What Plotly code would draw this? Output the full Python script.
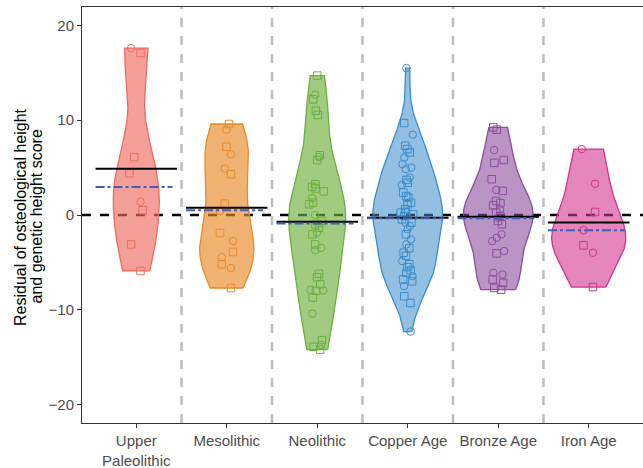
import numpy as np
import plotly.graph_objects as go

categories = ["Upper<br>Paleolithic", "Mesolithic", "Neolithic", "Copper Age", "Bronze Age", "Iron Age"]
y_title_lines = ["Residual of osteological height", "and genetic height score"]

# residual values, split by marker shape (circle / square)
up_circle = [17.6, 1.4]
up_square = [17.1, 6.1, 4.4, 0.5, -3.1, -5.9]

meso_circle = [9.0, 6.4, 4.9, 0.4, -2.75, -4.45, -5.6]
meso_square = [9.6, 7.2, 4.3, 1.2, -1.9, -3.9, -5.2, -7.7]

neo_circle = [12.7, 6.1, 1.8, 0.0, -0.9, -1.87, -3.46, -3.7, -7.97, -7.9, -10.4, -13.7]
neo_square = [14.7, 12.2, 11.0, 10.55, 6.3, 5.8, 3.25, 2.96, 2.8, 2.5, 1.3, 1.13,
              -0.63, -1.0, -1.34, -2.04, -3.1, -6.2, -6.56, -7.3, -8.0, -8.7,
              -13.2, -13.9, -14.2]

cu_circle = [15.5, 8.47, 6.06, 5.36, 5.0, 4.84, 3.95, 3.17, -0.8, -1.16, -2.57,
             -3.1, -4.87, -6.45, -7.5, -12.3, -1.5]
cu_square = [9.7, 7.3, 6.95, 6.6, 3.7, 3.4, 2.36, 2.0, 1.83, 1.3, 1.13, 0.6,
             0.25, 0.07, 0.25, -0.1, -0.46, -0.8, -2.04, -3.5, -3.98, -4.3,
             -5.2, -5.85, -6.1, -6.8, -7.0, -8.57, -9.28, -5.5]

ba_circle = [6.85, 2.65, 0.6, -0.28, -2.04, -2.4, -2.75, -3.8, -6.1, -6.28]
ba_square = [9.24, 9.0, 5.8, 5.5, 3.77, 2.54, 1.48, 1.23, 1.02, 0.25, -0.1,
             -0.63, -0.98, -4.05, -6.8, -7.16, -7.7, -7.87]

ia_circle = [6.95, 3.3, -1.6, -3.98]
ia_square = [0.32, -3.2, -7.6]

circles = [up_circle, meso_circle, neo_circle, cu_circle, ba_circle, ia_circle]
squares = [up_square, meso_square, neo_square, cu_square, ba_square, ia_square]

group_means = [4.87, 0.77, -0.7, -0.28, -0.18, -0.8]
model_values = [2.96, 0.5, -0.9, -0.35, -0.35, -1.6]

# styles
line_colors = ["#EE6B61", "#E98A28", "#6DAF3E", "#3A8DCB", "#8C4C9D", "#D2338F"]
fill_colors = ["rgba(238,107,97,0.65)", "rgba(233,138,40,0.65)", "rgba(109,175,62,0.65)",
               "rgba(58,141,203,0.55)", "rgba(140,76,157,0.6)", "rgba(210,51,143,0.6)"]
violin_widths = [0.51, 0.60, 0.63, 0.77, 0.77, 0.82]

fig = go.Figure()


def nrd0(v):
    v = np.asarray(v, float)
    sd = v.std(ddof=1)
    q75, q25 = np.percentile(v, [75, 25])
    lo = min(sd, (q75 - q25) / 1.34)
    if lo <= 0:
        lo = sd
    return 0.9 * lo * len(v) ** -0.2


def violin_outline(vals, center, width):
    v = np.asarray(vals, float)
    bw = nrd0(v)
    grid = np.linspace(v.min(), v.max(), 512)
    dens = np.exp(-0.5 * ((grid[:, None] - v[None, :]) / bw) ** 2).sum(axis=1)
    half = dens / dens.max() * width / 2
    xs = np.concatenate([center + half, (center - half)[::-1], [center + half[0]]])
    ys = np.concatenate([grid, grid[::-1], [grid[0]]])
    return xs, ys


for i in range(len(categories)):
    vals = circles[i] + squares[i]
    xs, ys = violin_outline(vals, i, violin_widths[i])
    fig.add_trace(go.Scatter(x=xs, y=ys, mode="lines", fill="toself",
                             fillcolor=fill_colors[i],
                             line=dict(color=line_colors[i], width=1.3),
                             showlegend=False, hoverinfo="skip"))

for i in range(len(categories)):
    for vals, sym in ((circles[i], "circle-open"), (squares[i], "square-open")):
        fig.add_trace(go.Box(
            x=[i] * len(vals), y=vals, width=0.2, boxpoints="all", jitter=0.9,
            pointpos=0, fillcolor="rgba(0,0,0,0)", line=dict(width=0, color="rgba(0,0,0,0)"),
            marker=dict(symbol=sym, size=7.5, color=line_colors[i],
                        line=dict(width=1, color=line_colors[i])),
            showlegend=False))

for i in range(len(categories)):
    fig.add_trace(go.Scatter(x=[i - 0.45, i + 0.45], y=[group_means[i]] * 2, mode="lines",
                             line=dict(color="black", width=2), showlegend=False))
    fig.add_trace(go.Scatter(x=[i - 0.45, i + 0.40], y=[model_values[i]] * 2, mode="lines",
                             line=dict(color="#3F5FB8", width=2, dash="dashdot"), showlegend=False))

shapes = []
for k in range(len(categories) - 1):
    shapes.append(dict(type="line", xref="x", yref="paper", x0=k + 0.5, x1=k + 0.5, y0=0, y1=1,
                       line=dict(color="#BDBDBD", width=2.5, dash="dash"), layer="below"))
shapes.append(dict(type="line", xref="paper", yref="y", x0=0, x1=1, y0=0, y1=0,
                   line=dict(color="black", width=2.5, dash="dash"), layer="below"))

annotations = []
for j, txt in enumerate(y_title_lines):
    annotations.append(dict(text=txt, xref="paper", yref="paper", x=(20 + 15.5 * j - 82) / 561,
                            y=0.5, yshift=-2, textangle=-90, showarrow=False,
                            xanchor="center", yanchor="middle",
                            font=dict(size=16, color="black")))

fig.update_layout(
    width=643, height=468, margin=dict(l=82, r=0, t=7, b=45),
    plot_bgcolor="white", paper_bgcolor="white",
    font=dict(family="Liberation Sans, Arial", size=15, color="#4D4D4D"),
    boxmode="overlay", showlegend=False, shapes=shapes, annotations=annotations,
    xaxis=dict(range=[-0.6, 5.6], tickvals=list(range(len(categories))), ticktext=categories,
               showgrid=False, zeroline=False, showline=True, linecolor="#333333", linewidth=1,
               mirror=True, ticks="outside", ticklen=4, tickcolor="#333333",
               tickfont=dict(size=15, color="#4D4D4D")),
    yaxis=dict(range=[-21.94, 21.94], tickvals=[-20, -10, 0, 10, 20], showgrid=False,
               zeroline=False, showline=True, linecolor="#333333", linewidth=1, mirror=True,
               ticks="outside", ticklen=4, tickcolor="#333333",
               tickfont=dict(size=15, color="#4D4D4D")),
)

fig.write_html("out.html")
